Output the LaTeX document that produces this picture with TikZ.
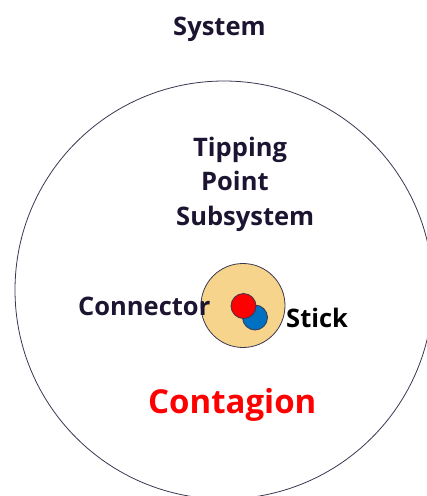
\documentclass[tikz,border=0pt]{standalone}
\usepackage{fontspec}
\setmainfont{Open Sans}
\definecolor{txt}{HTML}{1C1430}
\definecolor{edge}{HTML}{3A3650}
\definecolor{tan}{HTML}{F6D48C}
\definecolor{cred}{HTML}{FF0000}
\definecolor{cblue}{HTML}{0070C0}
\begin{document}
\begin{tikzpicture}[x=1pt,y=-1pt,
  lbl/.style={anchor=base west,inner sep=0pt,text=txt,font=\fontsize{25.5}{28}\selectfont\bfseries},
  ring/.style={circle,draw=edge,line width=0.8pt,inner sep=0pt}]
\useasboundingbox (0,0) rectangle (427,496);
\clip (0,0) rectangle (427,496);
\node[ring,minimum size=418pt] (sys) at (224,290) {};
\node[lbl] (system) at (173,35) {System};
\node[lbl] (tip) at (193,156) {Tipping};
\node[lbl] (point) at (201,190) {Point};
\node[lbl] (sub) at (176,225) {Subsystem};
\node[ring,fill=tan,minimum size=84pt] (tp) at (243,305.5) {};
\node[ring,fill=cblue,minimum size=25pt] (blue) at (255,317.5) {};
\node[ring,fill=cred,minimum size=25pt] (red) at (243.5,306) {};
\node[lbl] (conn) at (78,315) {Connector};
\node[lbl,text=black,font=\fontsize{25.5}{28}\selectfont\bfseries] (stick) at (286,327) {Stick};
\node[lbl,text=cred,font=\fontsize{33}{36}\selectfont\bfseries] (cont) at (148,413) {Contagion};
\end{tikzpicture}
\end{document}
